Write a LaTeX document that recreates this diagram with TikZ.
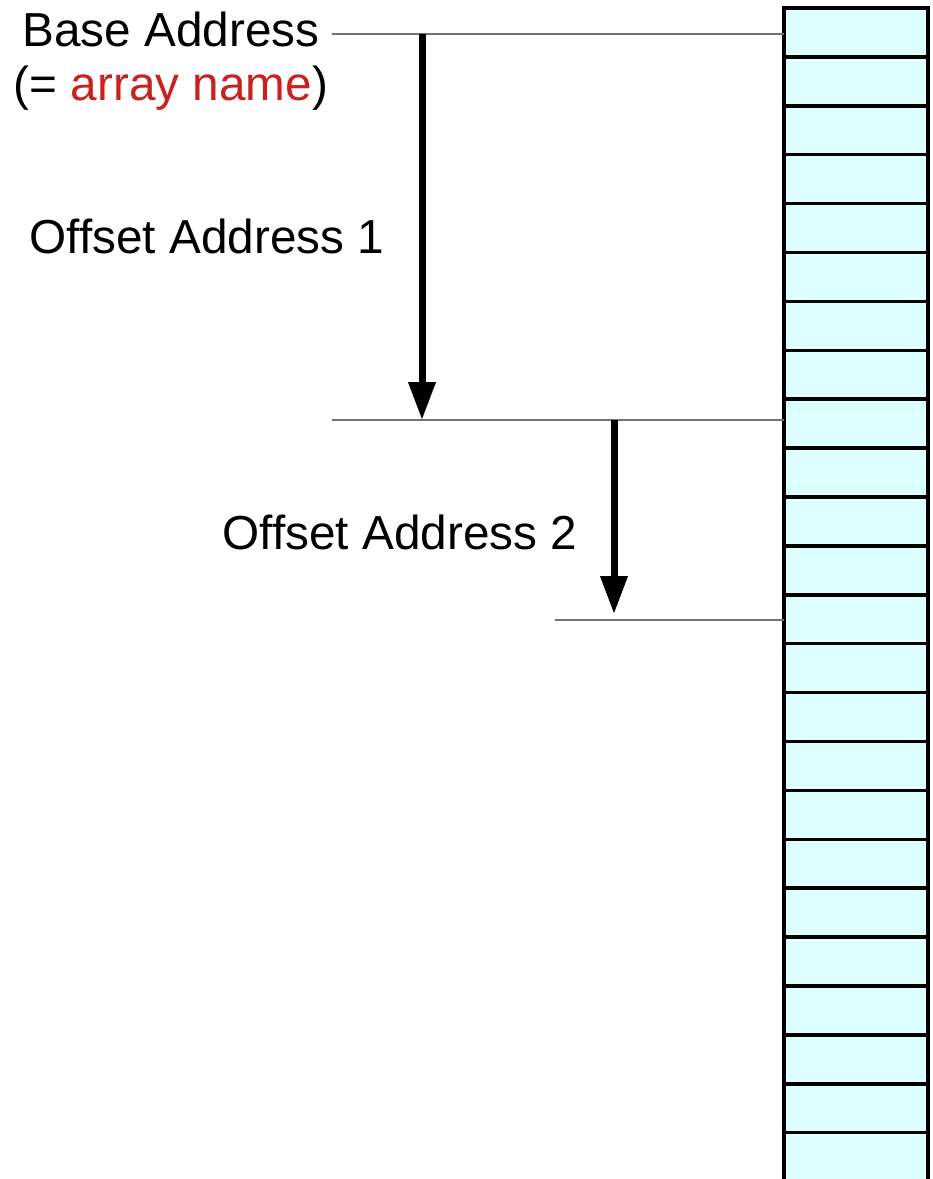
\documentclass[tikz,border=0pt]{standalone}
\usepackage{fontspec}
\setmainfont{Liberation Sans}
\usepackage{tikz}
\usetikzlibrary{arrows.meta}
\definecolor{arrayred}{HTML}{C9211E}
\definecolor{cellfill}{HTML}{DDFFFF}

\begin{document}
\begin{tikzpicture}[x=1pt,y=-1pt,
		cell/.style={shape=rectangle, draw=black, line width=3.5pt, fill=cellfill, minimum width=144pt, minimum height=48.9pt, inner sep=0pt, outer sep=0pt},
		guide/.style={draw=black!55, line width=1.4pt},
		offset/.style={line width=7pt, -{Triangle[length=38pt,width=26pt]}},
		label/.style={font=\fontsize{47.7}{54}\selectfont, inner sep=0pt, align=center}]
				\useasboundingbox (0,0) rectangle (933,1179);
				\foreach \i in {1,...,24}
					\node[cell] (c\i) at (856, 8+48.9*\i-24.45) {};
				\coordinate (b) at (332, 34);
				\coordinate (o) at (332, 420);
				\coordinate (p) at (555, 620);
				\path[guide] (b) edge (b -| c1.west);
				\path[guide] (o) edge (o -| c9.west);
				\path[guide] (p) edge (p -| c13.west);
				\coordinate (a1s) at (422, 0 |- b);
				\coordinate (a1e) at (422, 0 |- o);
				\coordinate (a2s) at (614, 0 |- o);
				\coordinate (a2e) at (614, 614);
				\path[offset] (a1s) edge (a1e);
				\path[offset] (a2s) edge (a2e);
				\node[label] (base) at (171, 61) {Base Address\\(= \textcolor{arrayred}{array name})};
				\node[label] (off1) at (207, 236) {Offset Address 1};
				\node[label] (off2) at (400, 532) {Offset Address 2};
			\end{tikzpicture}
\end{document}
